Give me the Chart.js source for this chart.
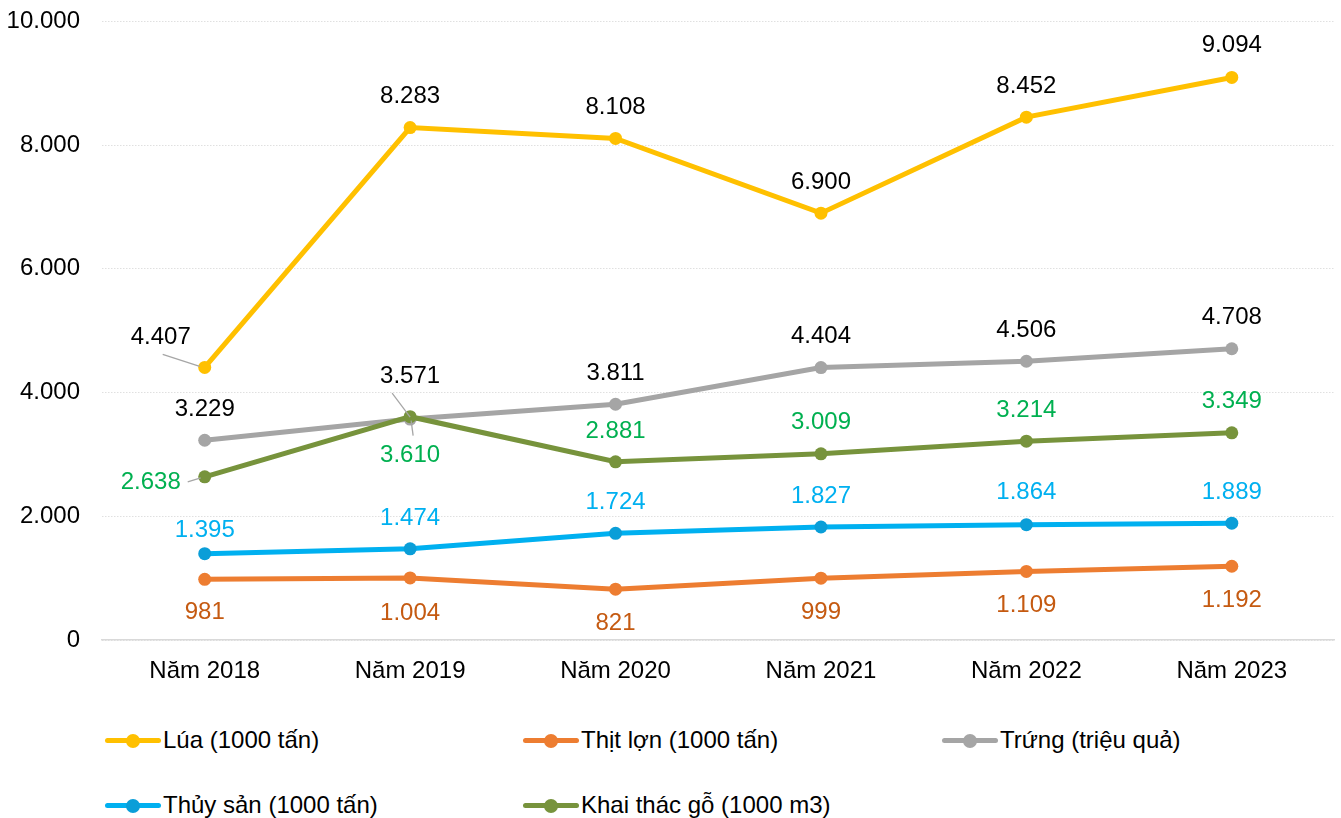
<!DOCTYPE html>
<html>
<head>
<meta charset="utf-8">
<script src="https://cdn.jsdelivr.net/npm/chart.js@4/dist/chart.umd.min.js"></script>
<style>
  html,body{margin:0;padding:0;background:#fff;}
  body{width:1341px;height:818px;position:relative;overflow:hidden;font-family:"Liberation Sans",Arial,sans-serif;}
  #wrap{position:absolute;left:0;top:-15px;width:1341px;height:715px;}
  .leg{position:absolute;font-size:24px;color:#000;white-space:nowrap;line-height:28px;}
  .leg .mk{position:absolute;left:0;top:12px;width:56px;height:5px;border-radius:2.5px;}
  .leg .dot{position:absolute;left:21px;top:7.5px;width:14px;height:14px;border-radius:50%;}
  .leg .tx{position:absolute;left:58px;top:0;}
</style>
</head>
<body>
<div id="wrap"><canvas id="c" width="1341" height="715"></canvas></div>
<div id="legend"></div>
<script>
const categories = ["Năm 2018","Năm 2019","Năm 2020","Năm 2021","Năm 2022","Năm 2023"];
const seriesNames = ["Lúa (1000 tấn)","Thịt lợn (1000 tấn)","Trứng (triệu quả)","Thủy sản (1000 tấn)","Khai thác gỗ (1000 m3)"];
const lua = [4407, 8283, 8108, 6900, 8452, 9094];
const thitLon = [981, 1004, 821, 999, 1109, 1192];
const trung = [3229, 3571, 3811, 4404, 4506, 4708];
const thuySan = [1395, 1474, 1724, 1827, 1864, 1889];
const khaiThacGo = [2638, 3610, 2881, 3009, 3214, 3349];
const yTicks = [0, 2000, 4000, 6000, 8000, 10000];

const lineColors = ["#FFC000","#ED7D31","#A5A5A5","#00B0F0","#77933C"];
const pointColors = ["#FFC000","#ED7D31","#A5A5A5","#0A9ED8","#77933C"];
const labelColors = ["#000000","#C55A11","#000000","#00B0F0","#00B050"];
// label offsets (dx, dy) relative to point, in pixels
const labelOffsets = [
  [[-44,-30],[0,-31],[0,-31],[0,-31],[0,-31],[0,-32]],
  [[0,33],[0,35],[0,34],[0,34],[0,34],[0,34]],
  [[0,-31],[0,-43],[0,-31],[0,-31],[0,-31],[0,-31]],
  [[0,-23],[0,-30],[0,-31],[0,-31],[0,-32],[0,-31]],
  [[-54,6],[0,39],[0,-30],[0,-31],[0,-31],[0,-31]]
];
// leader lines: [series, index, x1off, y1off, x2off, y2off]
const leaders = [
  [0,0,-42,-13,-5,-1],
  [2,1,-18,-26,0,-2],
  [4,1,1,4,3,19],
  [4,0,-17,5,-4,1]
];

function fmt(v){ return String(v).replace(/\B(?=(\d{3})+(?!\d))/g, "."); }

const allData = [lua, thitLon, trung, thuySan, khaiThacGo];
const FONT = '"Liberation Sans", Arial, sans-serif';

const labelPlugin = {
  id: 'labels',
  afterDatasetsDraw(chart){
    const ctx = chart.ctx;
    ctx.save();
    ctx.strokeStyle = "#A6A6A6";
    ctx.lineWidth = 1.3;
    leaders.forEach(l=>{
      const p = chart.getDatasetMeta(l[0]).data[l[1]];
      ctx.beginPath();
      ctx.moveTo(p.x + l[2], p.y + l[3]);
      ctx.lineTo(p.x + l[4], p.y + l[5]);
      ctx.stroke();
    });
    ctx.font = '24px ' + FONT;
    ctx.textAlign = 'center';
    ctx.textBaseline = 'middle';
    chart.data.datasets.forEach((ds, di)=>{
      const meta = chart.getDatasetMeta(di);
      meta.data.forEach((pt, i)=>{
        const off = labelOffsets[di][i];
        ctx.fillStyle = labelColors[di];
        ctx.fillText(fmt(ds.data[i]), pt.x + off[0], pt.y + off[1]);
      });
    });
    ctx.restore();
  }
};

const order = [4,3,2,1,0];
new Chart(document.getElementById('c'), {
  type: 'line',
  data: {
    labels: categories,
    datasets: allData.map((d, i)=>({
      label: seriesNames[i],
      data: d,
      borderColor: lineColors[i],
      backgroundColor: pointColors[i],
      pointBackgroundColor: pointColors[i],
      pointBorderColor: pointColors[i],
      borderWidth: 5,
      pointRadius: 6.5,
      pointBorderWidth: 0,
      tension: 0,
      order: order[i]
    }))
  },
  options: {
    responsive: false,
    animation: false,
    events: [],
    layout: { padding: { top: 5, right: 5, left: 0, bottom: 0 } },
    plugins: { legend: { display: false }, tooltip: { enabled: false } },
    scales: {
      x: {
        offset: true,
        grid: { display: false },
        border: { display: true, color: '#D9D9D9', width: 1.5 },
        ticks: { color: '#000', font: { family: FONT, size: 24 }, padding: 9, maxRotation: 0 },
        afterFit(s){ s.height = 60; }
      },
      y: {
        min: 0, max: 10000,
        afterBuildTicks(s){ s.ticks = yTicks.map(v=>({value:v})); },
        grid: { color: '#E0E0E0', lineWidth: 1, drawTicks: false },
        border: { display: false, dash: [1.5,1.5] },
        ticks: { color: '#000', font: { family: FONT, size: 24 }, padding: 22, callback: v => fmt(v) },
        afterFit(s){ s.width = 102; }
      }
    }
  },
  plugins: [labelPlugin]
});

// HTML legend
const legPos = [[105,726],[523,726],[942,726],[105,791],[523,791]];
const legend = document.getElementById('legend');
seriesNames.forEach((n,i)=>{
  const d = document.createElement('div');
  d.className = 'leg';
  d.style.left = legPos[i][0] + 'px';
  d.style.top = legPos[i][1] + 'px';
  d.innerHTML = '<span class="mk" style="background:'+lineColors[i]+'"></span><span class="dot" style="background:'+pointColors[i]+'"></span><span class="tx">'+n+'</span>';
  legend.appendChild(d);
});
</script>
</body>
</html>
